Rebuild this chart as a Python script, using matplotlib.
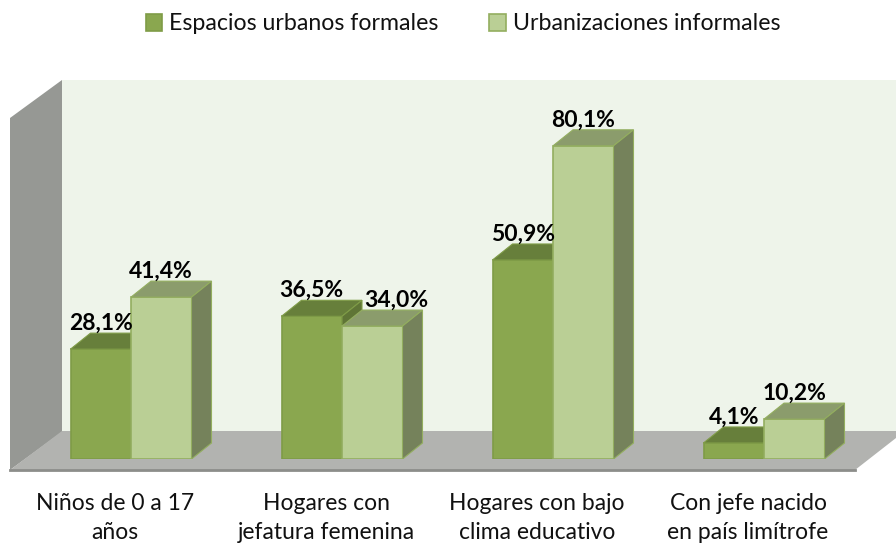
import matplotlib
matplotlib.use('Agg')
import matplotlib.pyplot as plt
from matplotlib.patches import Polygon
import numpy as np

categories = ['Niños de 0 a 17\naños', 'Hogares con\njefatura femenina',
              'Hogares con bajo\nclima educativo', 'Con jefe nacido\nen país limítrofe']
formales = [28.1, 36.5, 50.9, 4.1]
informales = [41.4, 34.0, 80.1, 10.2]
series_names = ['Espacios urbanos formales', 'Urbanizaciones informales']

plt.rcParams['font.family'] = ['Lato', 'DejaVu Sans']

W, H = 896, 544
fig = plt.figure(figsize=(W / 100, H / 100), dpi=100)

# walls and floor of the 3d box, in pixels
bg = fig.add_axes([0, 0, 1, 1])
bg.set_xlim(0, W)
bg.set_ylim(H, 0)
bg.axis('off')
bg.add_patch(Polygon([(62, 80), (896, 80), (896, 432), (62, 432)], fc='#eef4ea', ec='none'))
bg.add_patch(Polygon([(10, 118), (62, 80), (62, 432), (10, 470)], fc='#969894', ec='none'))
bg.add_patch(Polygon([(10, 470), (62, 431), (896, 431), (896, 438), (855, 470)], fc='#b2b3b0', ec='none'))
bg.plot([10, 855], [470, 470], color='#8c8d8a', lw=2)

# bars, baseline at y=459 px, 3.91 px per percent, 211 px between groups
px_unit = 3.91
group_px = 211
ax = fig.add_axes([0, (H - 459) / H, 1, 459 / H])
ax.patch.set_alpha(0)
ax.set_xlim(-131 / group_px, (W - 131) / group_px)
ax.set_ylim(0, 459 / px_unit)
for s in ax.spines.values():
    s.set_visible(False)
ax.set_yticks([])

x = np.arange(len(categories))
width = 60.5 / group_px
dx = 20 / group_px
dy = 16 / px_unit


def draw_series(xs, values, front, edge, top, side, name):
    bars = ax.bar(xs, values, width, color=front, edgecolor=edge, linewidth=1.2, label=name, zorder=3)
    for xc, v in zip(xs, values):
        l, r = xc - width / 2, xc + width / 2
        ax.add_patch(Polygon([(l, v), (r, v), (r + dx, v + dy), (l + dx, v + dy)],
                             fc=top, ec=edge, lw=0.8, zorder=3))
        ax.add_patch(Polygon([(r, 0), (r + dx, dy), (r + dx, v + dy), (r, v)],
                             fc=side, ec=edge, lw=0.8, zorder=3))
    return bars


draw_series(x - width / 2, formales, '#8aa74f', '#7f9c47', '#677f3b', '#5f7536', series_names[0])
draw_series(x + width / 2, informales, '#bacf95', '#93ae5f', '#8b9c6c', '#75825b', series_names[1])

for i in range(len(categories)):
    ax.text(x[i] - width / 2, formales[i] + 26 / px_unit, f'{formales[i]:.1f}%'.replace('.', ','),
            ha='center', va='center', fontsize=16.5, fontweight='bold', color='black', zorder=5)
    # the 34,0% label sits to the right of its bar
    shift = 24 / group_px if i == 1 else 0
    ax.text(x[i] + width / 2 + shift, informales[i] + 26 / px_unit, f'{informales[i]:.1f}%'.replace('.', ','),
            ha='center', va='center', fontsize=16.5, fontweight='bold', color='black', zorder=5)

ax.set_xticks(x - 16 / group_px, categories, fontsize=16.5, color='#111111', linespacing=1.47)
ax.tick_params(axis='x', length=0, pad=24.5)

ax.legend(loc='center', bbox_to_anchor=(463 / W, (459 - 24) / 459), ncol=2, frameon=False,
          fontsize=16.7, handlelength=0.7, handleheight=0.7, handletextpad=0.3, columnspacing=2.2,
          labelcolor='#111111')

fig.savefig('out.png', dpi=100)
